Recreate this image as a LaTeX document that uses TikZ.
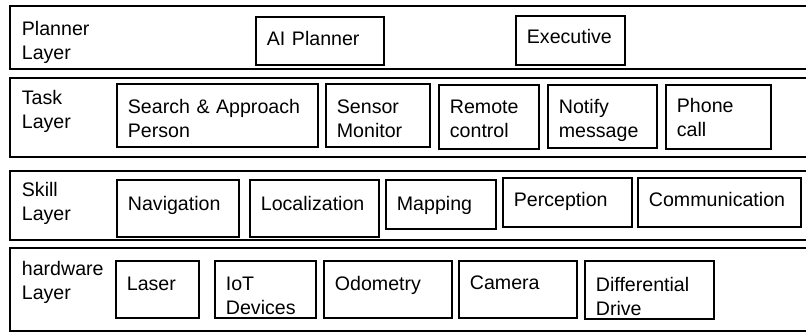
\documentclass[tikz,border=0pt]{standalone}
\usepackage{fontspec}
\setmainfont{Liberation Sans}
\tikzset{
  layer/.style 2 args={draw,line width=1.8pt,anchor=north west,inner xsep=12pt,inner ysep=0pt,
    align=left,text width=797pt,text height=#1,text depth=#2,font=\fontsize{19.6}{24}\selectfont},
  blk/.style n args={3}{draw,line width=1.8pt,anchor=north west,inner xsep=11pt,inner ysep=0pt,
    align=left,text width=#1,text height=#2,text depth=#3,font=\fontsize{19.6}{24}\selectfont}
}
\begin{document}
\begin{tikzpicture}[x=1pt,y=-1pt]
\useasboundingbox (0,0) rectangle (806,333);
\clip (0,0) rectangle (806,333);

% layers
\node[layer={30pt}{33pt}] (planner) at (9,5) {Planner\\Layer};
\node[layer={27pt}{52pt}] (task) at (9,77) {Task\\Layer};
\node[layer={26pt}{43pt}] (skill) at (9,170) {Skill\\Layer};
\node[layer={28pt}{55pt}] (hw) at (9,247) {hardware\\Layer};

% planner layer
\node[blk={106pt}{29pt}{19pt}] (ai) at (255,16) {AI Planner};
\node[blk={87pt}{28pt}{21pt}] (exec) at (515,15) {Executive};

% task layer
\node[blk={179pt}{30pt}{33pt}] (search) at (116,83) {Search \& Approach\\Person};
\node[blk={82pt}{30pt}{33pt}] (sensor) at (325,83) {Sensor\\Monitor};
\node[blk={78pt}{29pt}{35pt}] (remote) at (438,84) {Remote\\control};
\node[blk={87pt}{29pt}{34pt}] (notify) at (547,84) {Notify\\message};
\node[blk={83pt}{28pt}{36pt}] (phone) at (665,84) {Phone\\call};

% skill layer
\node[blk={100pt}{31pt}{26pt}] (nav) at (116,179) {Navigation};
\node[blk={107pt}{31pt}{26pt}] (loc) at (249,179) {Localization};
\node[blk={88pt}{31pt}{18pt}] (map) at (385,179) {Mapping};
\node[blk={107pt}{29pt}{20pt}] (perc) at (502,177) {Perception};
\node[blk={141pt}{29pt}{20pt}] (comm) at (637,177) {Communication};

% hardware layer
\node[blk={61pt}{30pt}{27pt}] (laser) at (115,260) {Laser};
\node[blk={79pt}{30pt}{27pt}] (iot) at (214,260) {IoT\\Devices};
\node[blk={106pt}{30pt}{27pt}] (odo) at (323,260) {Odometry};
\node[blk={96pt}{29pt}{28pt}] (cam) at (458,260) {Camera};
\node[blk={107pt}{31pt}{27pt}] (diff) at (584,260) {Differential\\Drive};
\end{tikzpicture}
\end{document}
